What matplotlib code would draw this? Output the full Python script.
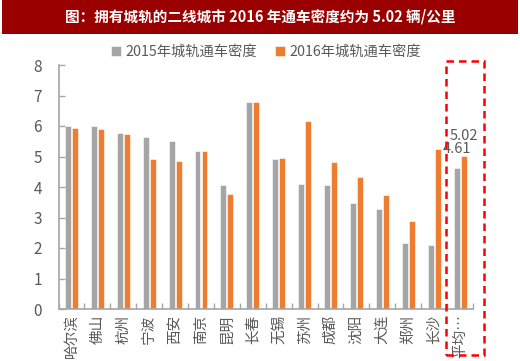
import matplotlib.pyplot as plt
import numpy as np
from matplotlib.patches import Rectangle

plt.rcParams['font.family'] = ['Noto Sans CJK SC', 'DejaVu Sans']

cities = ['哈尔滨', '佛山', '杭州', '宁波', '西安', '南京', '昆明', '长春', '无锡',
          '苏州', '成都', '沈阳', '大连', '郑州', '长沙', '平均…']
density_2015 = [6.0, 6.0, 5.78, 5.63, 5.5, 5.19, 4.06, 6.8, 4.93,
                4.1, 4.06, 3.46, 3.29, 2.17, 2.09, 4.61]
density_2016 = [5.92, 5.9, 5.74, 4.92, 4.84, 5.19, 3.77, 6.8, 4.95,
                6.16, 4.83, 4.32, 3.73, 2.9, 5.24, 5.02]
legend_labels = ['2015年城轨通车密度', '2016年城轨通车密度']
title = '图：拥有城轨的二线城市 2016 年通车密度约为 5.02 辆/公里'

gray = '#A5A5A5'
orange = '#ED7D31'
txt = '#595959'

fig = plt.figure(figsize=(5.2, 3.61), dpi=100)
fig.patch.set_facecolor('white')

# title bar
fig.patches.append(Rectangle((0.004, 0.906), 0.992, 0.094, transform=fig.transFigure,
                             facecolor='#9A0000', edgecolor='none'))
fig.text(0.5, 0.955, title, color='white', fontsize=10.5, fontweight='bold',
         ha='center', va='center')

ax = fig.add_axes([58.5 / 520, 1 - 309 / 361, 414.5 / 520, 244 / 361])
x = np.arange(len(cities))
w = 0.23
ax.bar(x - 0.135, density_2015, w, color=gray, edgecolor='white', linewidth=0.4,
       label=legend_labels[0])
ax.bar(x + 0.135, density_2016, w, color=orange, edgecolor='white', linewidth=0.4,
       label=legend_labels[1])

# data labels for the average
ax.text(x[-1] - 0.135, density_2015[-1] + 0.42, f'{density_2015[-1]:.2f}', color=txt,
        fontsize=10.5, ha='center', va='bottom')
ax.text(x[-1] + 0.135, density_2016[-1] + 0.42, f'{density_2016[-1]:.2f}', color=txt,
        fontsize=10.5, ha='center', va='bottom')

ax.set_xlim(-0.5, len(cities) - 0.5)
ax.set_ylim(0, 8)
ax.set_yticks(range(0, 9))
ax.set_xticks(x)
ax.set_xticklabels(cities, rotation=90, fontsize=10.5, color=txt)
ax.set_xticks(np.arange(-0.5, len(cities), 1), minor=True)
ax.tick_params(axis='x', which='major', length=0, pad=4)
ax.tick_params(axis='x', which='minor', direction='in', length=4, color='#A6A6A6', width=1)
ax.tick_params(axis='y', direction='in', length=4, color='#A6A6A6', width=1,
               labelsize=11, labelcolor=txt, pad=12)
for s in ['top', 'right']:
    ax.spines[s].set_visible(False)
for s in ['left', 'bottom']:
    ax.spines[s].set_color('#A6A6A6')
    ax.spines[s].set_linewidth(1.2)

ax.legend(loc='center', bbox_to_anchor=(0.5, 1.053), ncol=2, frameon=False,
          fontsize=10.3, handlelength=0.7, handleheight=0.7, handletextpad=0.3,
          columnspacing=1.3, labelcolor=txt)

# red dashed highlight box around the average
fig.patches.append(Rectangle((446 / 520, 1 - 355 / 361), 38 / 520, (355 - 61) / 361,
                             transform=fig.transFigure, fill=False, edgecolor='#FF0000',
                             linestyle=(0, (3, 2)), linewidth=1.8))

fig.savefig('out.png', dpi=100)
